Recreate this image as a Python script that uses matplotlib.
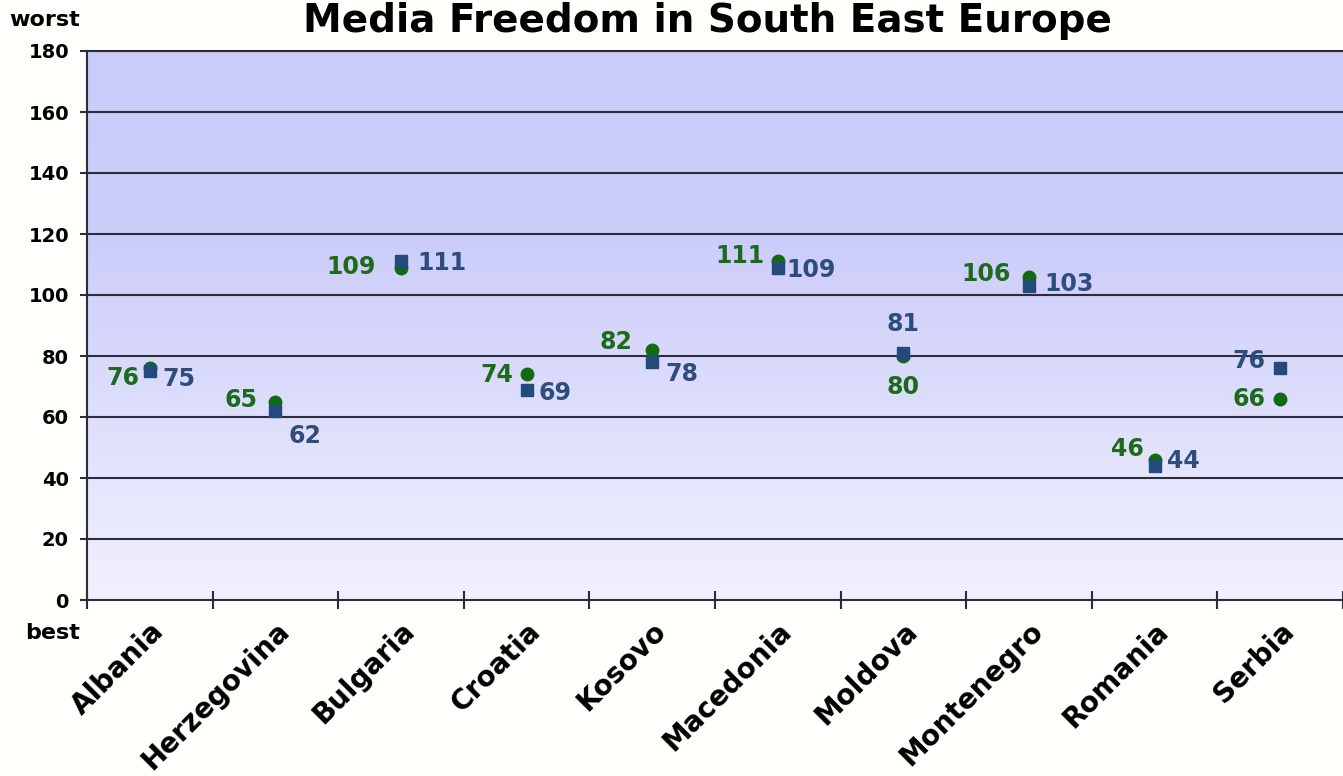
import numpy as np
import matplotlib.pyplot as plt
from matplotlib.colors import LinearSegmentedColormap

# --------------------------------
# DATA
# --------------------------------

countries = ["Albania", "Herzegovina", "Bulgaria", "Croatia", "Kosovo",
             "Macedonia", "Moldova", "Montenegro", "Romania", "Serbia"]

green_rank = [76, 65, 109, 74, 82, 111, 80, 106, 46, 66]
blue_rank = [75, 62, 111, 69, 78, 109, 81, 103, 44, 76]

y_ticks = [0, 20, 40, 60, 80, 100, 120, 140, 160, 180]

# label offsets in pixels (dx, dy, ha)
green_off = [(-10, -10, "right"), (-18, 2, "right"), (-25, 1, "right"),
             (-13, -1, "right"), (-20, 8, "right"), (-13, 5, "right"),
             (0, -31, "center"), (-18, 3, "right"), (-11, 11, "right"),
             (-15, 0, "right")]
blue_off = [(13, -8, "left"), (30, -25, "center"), (16, -2, "left"),
            (12, -3, "left"), (13, -12, "left"), (9, -2, "left"),
            (0, 29, "center"), (15, 2, "left"), (12, 5, "left"),
            (-15, 7, "right")]

GREEN = "#0f6a12"
BLUE = "#244a7c"
GREEN_TXT = "#1d6a1d"
BLUE_TXT = "#2f4d7c"
LINE = "#2c2c3c"

# --------------------------------
# FIGURE
# --------------------------------

fig = plt.figure(figsize=(13.43, 7.76), dpi=100, facecolor="#fffffb")
ax = fig.add_axes([87 / 1343, 1 - 600 / 776, 1 - 87 / 1343, 549 / 776])

n = len(countries)
ax.set_xlim(0, n)
ax.set_ylim(0, 180)

# gradient background
cmap = LinearSegmentedColormap.from_list(
    "bg", [(0.0, "#f1f1fe"), (0.65, "#cdcdfb"), (1.0, "#cbcbfa")])
grad = np.linspace(0, 1, 256).reshape(-1, 1)
ax.imshow(grad, extent=[0, n, 0, 180], origin="lower", aspect="auto",
          cmap=cmap, zorder=0)

for y in y_ticks[1:]:
    ax.axhline(y, color=LINE, lw=1.5, zorder=1)

x = np.arange(n) + 0.5

ax.plot(x, green_rank, "o", color=GREEN, ms=9, zorder=3)
ax.plot(x, blue_rank, "s", color=BLUE, ms=8.5, zorder=4)

for i in range(n):
    dx, dy, ha = green_off[i]
    ax.annotate(str(green_rank[i]), (x[i], green_rank[i]), xytext=(dx, dy),
                textcoords="offset pixels", ha=ha, va="center",
                color=GREEN_TXT, fontsize=17, fontweight="bold", zorder=5)
    dx, dy, ha = blue_off[i]
    ax.annotate(str(blue_rank[i]), (x[i], blue_rank[i]), xytext=(dx, dy),
                textcoords="offset pixels", ha=ha, va="center",
                color=BLUE_TXT, fontsize=17, fontweight="bold", zorder=5)

# axes styling
ax.spines["right"].set_visible(False)
for side in ["left", "bottom", "top"]:
    ax.spines[side].set_color(LINE)
    ax.spines[side].set_linewidth(1.5)

ax.set_yticks(y_ticks)
ax.set_yticklabels([str(v) for v in y_ticks], fontsize=14, fontweight="bold")
ax.tick_params(axis="y", direction="out", length=5, width=1.5, color=LINE, pad=8)

ax.set_xticks(np.arange(n + 1))
ax.set_xticklabels([])
ax.set_xticks(x, minor=True)
ax.set_xticklabels(countries, minor=True, rotation=45, ha="right",
                   rotation_mode="anchor", fontsize=20, fontweight="bold")
ax.tick_params(axis="x", which="major", direction="inout", length=13,
               width=1.5, color=LINE)
ax.tick_params(axis="x", which="minor", length=0, pad=12)

fig.text(80 / 1343, 1 - 20 / 776, "worst", ha="right", va="center",
         fontsize=16, fontweight="bold")
fig.text(80 / 1343, 1 - 633 / 776, "best", ha="right", va="center",
         fontsize=16, fontweight="bold")

fig.text(707 / 1343, 1 - 2 / 776, "Media Freedom in South East Europe",
         ha="center", va="top", fontsize=28, fontweight="bold")

fig.savefig("out.png", dpi=100, facecolor=fig.get_facecolor())
